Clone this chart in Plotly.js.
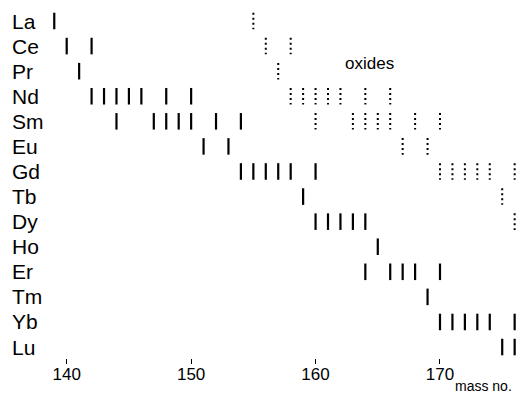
<!DOCTYPE html>
<html>
<head>
<meta charset="utf-8">
<script src="https://cdn.plot.ly/plotly-3.0.1.min.js"></script>
<style>
  html, body { margin: 0; padding: 0; background: #fff; }
  #chart { width: 520px; height: 393px; }
</style>
</head>
<body>
<div id="chart"></div>
<script>
// Rare-earth elements, one row each, top to bottom
const elements = ['La', 'Ce', 'Pr', 'Nd', 'Sm', 'Eu', 'Gd', 'Tb', 'Dy', 'Ho', 'Er', 'Tm', 'Yb', 'Lu'];

// Isotope mass numbers (solid marks)
const isotopes = [
  [139],
  [140, 142],
  [141],
  [142, 143, 144, 145, 146, 148, 150],
  [144, 147, 148, 149, 150, 152, 154],
  [151, 153],
  [154, 155, 156, 157, 158, 160],
  [159],
  [160, 161, 162, 163, 164],
  [165],
  [164, 166, 167, 168, 170],
  [169],
  [170, 171, 172, 173, 174, 176],
  [175, 176]
];

// Monoxide mass numbers (dotted marks)
const oxides = [
  [155],
  [156, 158],
  [157],
  [158, 159, 160, 161, 162, 164, 166],
  [160, 163, 164, 165, 166, 168, 170],
  [167, 169],
  [170, 171, 172, 173, 174, 176],
  [175],
  [176],
  [], [], [], [], []
];

const massTicks = [140, 150, 160, 170];

// half height of a mark, in row units
const HALF = 0.33;

function segments(groups) {
  const xs = [], ys = [];
  groups.forEach((masses, row) => {
    masses.forEach(m => {
      xs.push(m, m, null);
      ys.push(row - HALF, row + HALF, null);
    });
  });
  return { xs, ys };
}

const iso = segments(isotopes);
const ox = segments(oxides);

const traces = [
  {
    x: iso.xs, y: iso.ys, type: 'scatter', mode: 'lines',
    line: { color: '#000', width: 2.2 },
    hoverinfo: 'skip', showlegend: false
  },
  {
    x: ox.xs, y: ox.ys, type: 'scatter', mode: 'lines',
    line: { color: '#000', width: 2, dash: '2px,3px' },
    hoverinfo: 'skip', showlegend: false
  }
];

const labelFont = { family: 'Liberation Sans, Arial, sans-serif', size: 21, color: '#000' };

const annotations = elements.map((el, i) => ({
  text: el, xref: 'paper', x: -0.074, xanchor: 'left',
  yref: 'y', y: i, yanchor: 'middle',
  showarrow: false, font: labelFont
}));

annotations.push({
  text: 'oxides', xref: 'x', x: 164.3, yref: 'y', y: 1.7,
  xanchor: 'center', yanchor: 'middle', showarrow: false,
  font: { family: 'Liberation Sans, Arial, sans-serif', size: 17, color: '#000' }
});

annotations.push({
  text: 'mass no.', xref: 'paper', x: 0.858, xanchor: 'left',
  yref: 'paper', y: -0.108, yanchor: 'bottom', showarrow: false,
  font: { family: 'Liberation Sans, Arial, sans-serif', size: 14, color: '#000' }
});

const layout = {
  width: 520, height: 393,
  margin: { l: 45, r: 0, t: 5, b: 35 },
  paper_bgcolor: '#fff', plot_bgcolor: '#fff',
  showlegend: false,
  xaxis: {
    range: [138.256, 176.43],
    tickvals: massTicks, ticktext: massTicks.map(String),
    ticks: 'outside', ticklen: 5, tickwidth: 1, tickcolor: '#000',
    ticklabelstandoff: -4,
    showline: false, showgrid: false, zeroline: false,
    tickfont: { family: 'Liberation Sans, Arial, sans-serif', size: 17, color: '#000' }
  },
  yaxis: {
    range: [13.437, -0.638], visible: false,
    showgrid: false, zeroline: false
  },
  annotations: annotations
};

Plotly.newPlot('chart', traces, layout, { staticPlot: true, displayModeBar: false });
</script>
</body>
</html>
